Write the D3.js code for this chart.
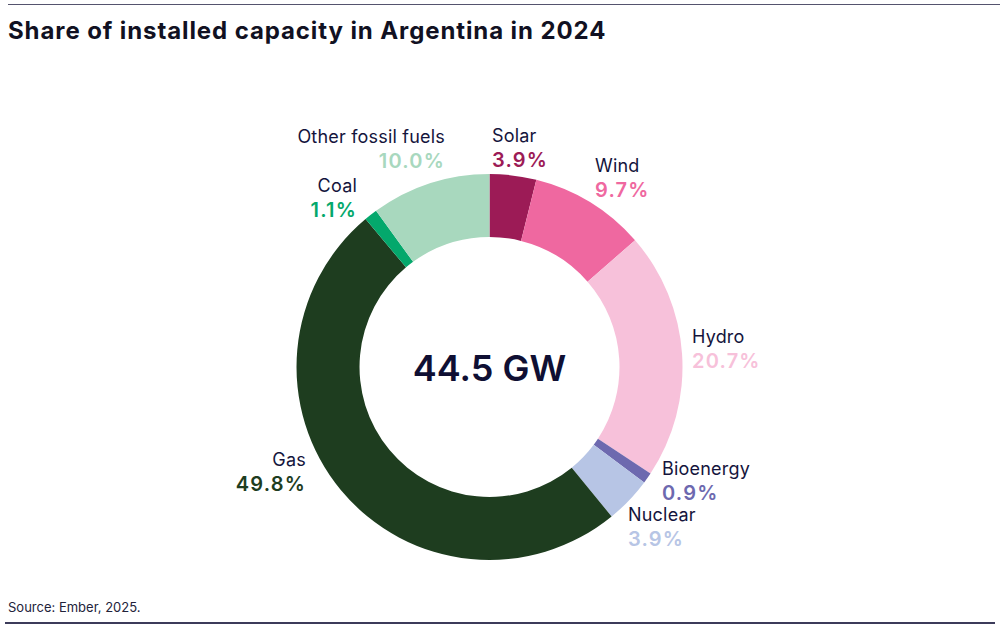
<!DOCTYPE html>
<html>
<head>
<meta charset="utf-8">
<script src="https://cdn.jsdelivr.net/npm/d3@7"></script>
<style>
  html, body { margin: 0; padding: 0; background: #fff; }
  svg { display: block; font-family: "Inter", "Noto Sans", sans-serif; }
</style>
</head>
<body>
<svg id="chart" width="1000" height="632"></svg>
<script>
// Data, clockwise from 12 o'clock
const categories = ["Solar", "Wind", "Hydro", "Bioenergy", "Nuclear", "Gas", "Coal", "Other fossil fuels"];
const shares = [3.9, 9.7, 20.7, 0.9, 3.9, 49.8, 1.1, 10.0];
const colors = ["#9c1b56", "#ef68a0", "#f7c1da", "#6d69af", "#b7c5e5", "#1e3d1f", "#04a86c", "#a8d8be"];
const totalLabel = "44.5 GW";

// label anchor points (name baseline), side decides text-anchor
const labelPos = {
  "Solar":              { x: 492, y: 142, anchor: "start" },
  "Wind":               { x: 595, y: 172, anchor: "start" },
  "Hydro":              { x: 692, y: 343, anchor: "start" },
  "Bioenergy":          { x: 662, y: 475, anchor: "start" },
  "Nuclear":            { x: 628, y: 521, anchor: "start" },
  "Gas":                { x: 306, y: 466, anchor: "end" },
  "Coal":               { x: 357, y: 192, anchor: "end" },
  "Other fossil fuels": { x: 445, y: 143, anchor: "end" }
};

const svg = d3.select("#chart");
const cx = 489.5, cy = 367;
const outerR = 193, innerR = 130;

// rules
svg.append("line")
  .attr("x1", 8).attr("x2", 1000).attr("y1", 4.5).attr("y2", 4.5)
  .attr("stroke", "#55546e").attr("stroke-width", 1.2);
svg.append("line")
  .attr("x1", 5).attr("x2", 995).attr("y1", 623).attr("y2", 623)
  .attr("stroke", "#3c3b5a").attr("stroke-width", 2);

// title
svg.append("text")
  .attr("x", 8).attr("y", 39)
  .attr("font-size", 24).attr("font-weight", 700)
  .attr("letter-spacing", 0.9)
  .attr("fill", "#111122")
  .text("Share of installed capacity in Argentina in 2024");

// source
svg.append("text")
  .attr("x", 8).attr("y", 612)
  .attr("font-size", 13)
  .attr("fill", "#22223a")
  .text("Source: Ember, 2025.");

const data = categories.map((c, i) => ({ name: c, value: shares[i], color: colors[i] }));

const pie = d3.pie()
  .value(d => d.value)
  .sort(null);

const arc = d3.arc()
  .innerRadius(innerR)
  .outerRadius(outerR);

const g = svg.append("g")
  .attr("transform", `translate(${cx},${cy})`);

g.selectAll("path")
  .data(pie(data))
  .join("path")
  .attr("d", arc)
  .attr("fill", d => d.data.color);

// centre total
g.append("text")
  .attr("text-anchor", "middle")
  .attr("y", 14)
  .attr("font-size", 36)
  .attr("font-weight", 600)
  .attr("fill", "#0f0f33")
  .text(totalLabel);

// slice labels
const labels = svg.append("g").selectAll("g")
  .data(data)
  .join("g")
  .attr("transform", d => `translate(${labelPos[d.name].x},${labelPos[d.name].y})`)
  .attr("text-anchor", d => labelPos[d.name].anchor);

labels.append("text")
  .attr("font-size", 18)
  .attr("letter-spacing", 0.2)
  .attr("fill", "#14143c")
  .text(d => d.name);

labels.append("text")
  .attr("y", 25)
  .attr("font-size", 20)
  .attr("font-weight", 600)
  .attr("letter-spacing", 1.2)
  .attr("fill", d => d.color)
  .text(d => d.value.toFixed(1) + "%");
</script>
</body>
</html>
